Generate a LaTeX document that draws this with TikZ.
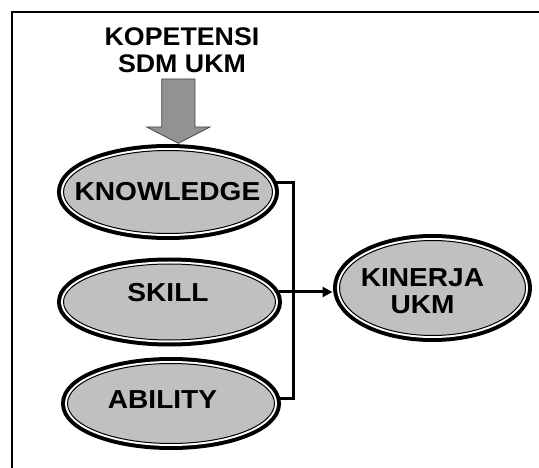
\documentclass[tikz,border=0pt]{standalone}
\usepackage{fontspec}
\setmainfont{Liberation Sans}
\newfontfamily\titlefont[FakeStretch=1.05]{Liberation Sans}
\newfontfamily\ovalfont[FakeStretch=1.08]{Liberation Sans}
\usetikzlibrary{shapes.geometric,arrows.meta,backgrounds}
\definecolor{ovalgray}{RGB}{192,192,192}
\definecolor{blockgray}{RGB}{146,146,146}
\definecolor{blockedge}{RGB}{70,70,70}
\tikzset{
  oval/.style={ellipse, inner sep=0pt, fill=ovalgray, draw=black, line width=1pt,
    preaction={draw=black, line width=13pt},
    preaction={draw=white, line width=5pt}},
  ovaltext/.style={font=\ovalfont\bfseries\fontsize{26}{27.5}\selectfont,
    align=center, inner sep=0pt},
  titletext/.style={font=\titlefont\bfseries\fontsize{25.5}{26.5}\selectfont,
    align=center, inner sep=0pt},
  conn/.style={line width=3pt},
  tip/.style={-{Triangle[length=10pt,width=10pt]}},
}
\begin{document}
\begin{tikzpicture}[x=1pt,y=-1pt]
  \useasboundingbox (0,0) rectangle (539,468);
  \clip (0,0) rectangle (539,468);

  % outer frame
  \draw[line width=1.7pt] (545,12.3) -- (11.7,12.3) -- (11.7,475);

  % heading
  \node[titletext] (title) at (182,50) {KOPETENSI\\SDM UKM};

  % ovals
  \node[oval, minimum width=209pt, minimum height=83pt] (knowledge) at (168,192) {};
  \node[oval, minimum width=212pt, minimum height=76pt] (skill) at (169.5,302) {};
  \node[oval, minimum width=207pt, minimum height=80pt] (ability) at (171,403.5) {};
  \node[oval, minimum width=186pt, minimum height=95pt] (kinerja) at (432.5,288) {};

  \node[ovaltext] (knowledge-text) at (167.5,191.5) {KNOWLEDGE};
  \node[ovaltext] (skill-text) at (168,293) {SKILL};
  \node[ovaltext] (ability-text) at (162.5,400) {ABILITY};
  \node[ovaltext] (kinerja-text) at (422.5,291) {KINERJA\\UKM};

  % block arrow from the heading into KNOWLEDGE
  \draw[fill=blockgray, draw=blockedge, line width=0.8pt]
    (161.7,79) -- (195,79) -- (195,127) -- (210,127) -- (178.3,143.3)
    -- (146.7,127) -- (161.7,127) -- cycle;

  % bus joining the three ovals to KINERJA UKM
  \coordinate (bus-top) at (293,183);
  \coordinate (bus-mid) at (293,292);
  \coordinate (bus-bot) at (293,398);
  \begin{pgfonlayer}{background}
    \draw[conn] (knowledge.center |- bus-top) -- (bus-top) -- (bus-bot)
      -- (ability.center |- bus-bot);
    \draw[conn, tip, shorten >=6.5pt] (skill.center |- bus-mid)
      -- (kinerja.west |- bus-mid);
  \end{pgfonlayer}
\end{tikzpicture}
\end{document}
